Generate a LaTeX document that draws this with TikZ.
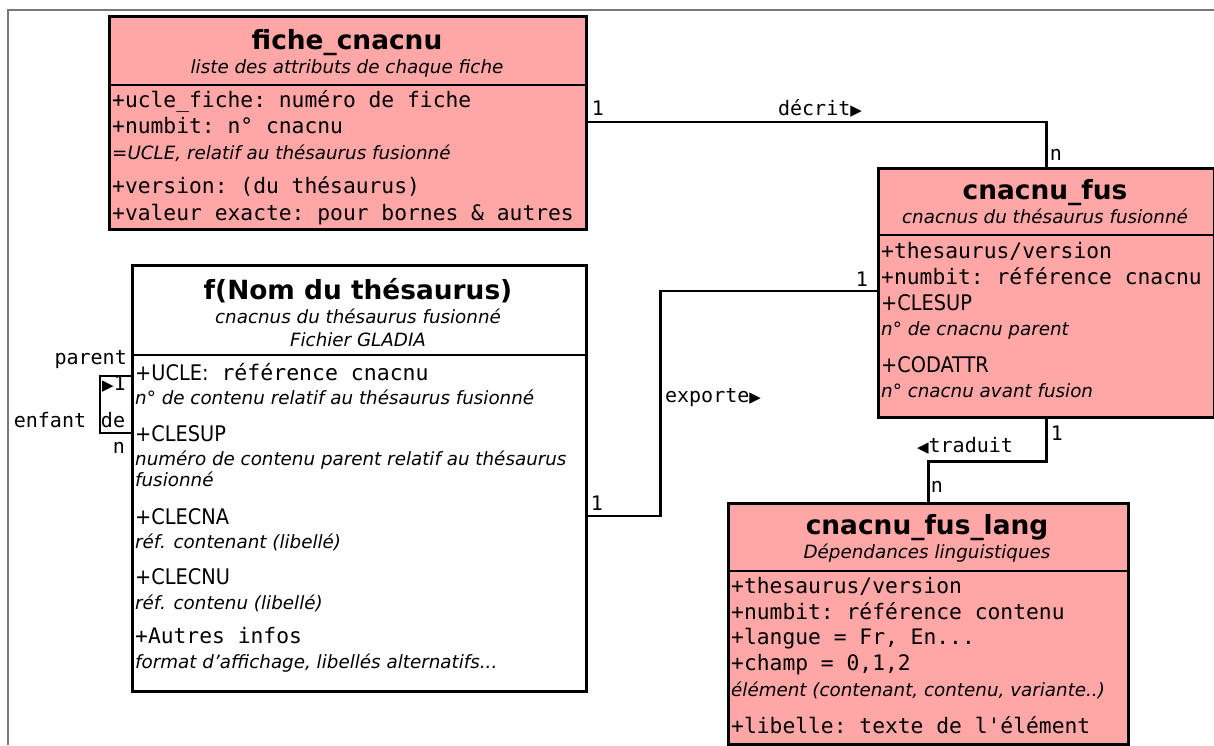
\documentclass[tikz,border=0pt]{standalone}
\usepackage{fontspec}
\setmainfont{DejaVu Sans}
\setmonofont{DejaVu Sans Mono}
\newfontfamily\condfont{DejaVu Sans Condensed}[ItalicFont={DejaVu Sans Condensed Oblique}]
\usetikzlibrary{positioning}
\definecolor{classpink}{RGB}{255,166,166}
\definecolor{framegrey}{RGB}{120,120,120}
\newcommand{\arrowR}{{\rmfamily\fontsize{15}{15}\selectfont ▶}}
\newcommand{\arrowL}{{\rmfamily\fontsize{15}{15}\selectfont ◀}}

\tikzset{
    classbox/.style={draw, line width=2.5pt, anchor=north west, inner sep=0pt, fill=classpink},
    plainbox/.style={classbox, fill=white},
    divider/.style={line width=2.5pt},
    link/.style={line width=2.5pt},
    frameline/.style={line width=1.5pt, draw=framegrey},
    classname/.style={anchor=base, inner sep=0pt, font=\bfseries\fontsize{26.4}{28}\selectfont},
    classnote/.style={anchor=base, inner sep=0pt, font=\itshape\fontsize{18.3}{20}\selectfont},
    attr/.style={anchor=base west, inner sep=0pt, font=\ttfamily\fontsize{21.3}{23}\selectfont},
    attrkey/.style={anchor=base west, inner sep=0pt, font=\condfont\fontsize{21.5}{23}\selectfont},
    attrnote/.style={anchor=base west, inner sep=0pt, font=\itshape\fontsize{18.3}{20}\selectfont},
    mult/.style={inner sep=0pt, font=\ttfamily\fontsize{20}{22}\selectfont}
}

\begin{document}
\begin{tikzpicture}[x=1pt, y=-1pt]
    \useasboundingbox (0,0) rectangle (1214,745);
    \draw[frameline] (8,745) -- (8,10) -- (1214,10);

    % fiche_cnacnu
    \node[classbox, minimum width=477pt, minimum height=213pt] (fiche) at (108,15) {};
    \draw[divider] ([yshift=-70pt]fiche.north west) -- ([yshift=-70pt]fiche.north east);
    \node[classname] (ficheT) at (347,49) {fiche\_cnacnu};
    \node[classnote] (ficheS) at (347,73) {liste des attributs de chaque fiche};
    \node[attr] (ficheA1) at (112,107) {+ucle\_fiche: numéro de fiche};
    \node[attr] (ficheA2) at (112,133) {+numbit: n° cnacnu};
    \node[attrnote] (ficheA3) at (112,159) {=UCLE, relatif au thésaurus fusionné};
    \node[attr] (ficheA4) at (112,193) {+version: (du thésaurus)};
    \node[attr] (ficheA5) at (112,220) {+valeur exacte: pour bornes \& autres};

    % f(Nom du thesaurus)
    \node[plainbox, minimum width=454pt, minimum height=426pt] (thes) at (131,264) {};
    \draw[divider] ([yshift=-91pt]thes.north west) -- ([yshift=-91pt]thes.north east);
    \node[classname] (thesT) at (358,299) {f(Nom du thésaurus)};
    \node[classnote] (thesS1) at (358,323) {cnacnus du thésaurus fusionné};
    \node[classnote] (thesS2) at (358,346) {Fichier GLADIA};
    \node[attrkey] (thesA1) at (135,380) {+UCLE:\texttt{ référence cnacnu}};
    \node[attrnote] (thesA2) at (135,404) {n° de contenu relatif au thésaurus fusionné};
    \node[attrkey] (thesA3) at (135,441) {+CLESUP};
    \node[attrnote] (thesA4) at (135,465) {numéro de contenu parent relatif au thésaurus};
    \node[attrnote] (thesA5) at (135,486) {fusionné};
    \node[attrkey] (thesA6) at (135,524) {+CLECNA};
    \node[attrnote] (thesA7) at (135,548) {réf. contenant (libellé)};
    \node[attrkey] (thesA8) at (135,584) {+CLECNU};
    \node[attrnote] (thesA9) at (135,609) {réf. contenu (libellé)};
    \node[attr] (thesA10) at (135,643) {+Autres infos};
    \node[attrnote] (thesA11) at (135,668) {format d'affichage, libellés alternatifs...};

    % cnacnu_fus
    \node[classbox, minimum width=336pt, minimum height=249pt] (fus) at (877,167) {};
    \draw[divider] ([yshift=-68pt]fus.north west) -- ([yshift=-68pt]fus.north east);
    \node[classname] (fusT) at (1045,199) {cnacnu\_fus};
    \node[classnote] (fusS) at (1045,223) {cnacnus du thésaurus fusionné};
    \node[attr] (fusA1) at (881,258) {+thesaurus/version};
    \node[attr] (fusA2) at (881,284) {+numbit: référence cnacnu};
    \node[attrkey] (fusA3) at (881,310) {+CLESUP};
    \node[attrnote] (fusA4) at (881,335) {n° de cnacnu parent};
    \node[attrkey] (fusA5) at (881,372) {+CODATTR};
    \node[attrnote] (fusA6) at (881,397) {n° cnacnu avant fusion};

    % cnacnu_fus_lang
    \node[classbox, minimum width=400pt, minimum height=241pt] (lang) at (727,502) {};
    \draw[divider] ([yshift=-69pt]lang.north west) -- ([yshift=-69pt]lang.north east);
    \node[classname] (langT) at (927,534) {cnacnu\_fus\_lang};
    \node[classnote] (langS) at (927,558) {Dépendances linguistiques};
    \node[attr] (langA1) at (731,593) {+thesaurus/version};
    \node[attr] (langA2) at (731,619) {+numbit: référence contenu};
    \node[attr] (langA3) at (731,644) {+langue = Fr, En...};
    \node[attr] (langA4) at (731,670) {+champ = 0,1,2};
    \node[attrnote] (langA5) at (731,696) {élément (contenant, contenu, variante..)};
    \node[attr] (langA6) at (731,733) {+libelle: texte de l'élément};

    % associations
    \coordinate (decritA) at ([yshift=-107pt]fiche.north east);
    \draw[link] (decritA) -| (fus.north);
    \node[mult] (decrit1) at (598,108) {1};
    \node[mult] (decritL) at (820,108) {décrit\arrowR};
    \node[mult] (decritN) at (1056,155) {n};

    \coordinate (exportA) at ([yshift=-252pt]thes.north east);
    \coordinate (exportB) at ([yshift=-124pt]fus.north west);
    \draw[link] (exportA) -- ++(73,0) |- (exportB);
    \node[mult] (export1) at (597,503) {1};
    \node[mult] (export2) at (862,279) {1};
    \node[mult] (exportL) at (713,398) {exporte\arrowR};

    \draw[link] (fus.south) -- ++(0,43) -| (lang.north);
    \node[mult] (traduit1) at (1057,433) {1};
    \node[mult] (traduitL) at (965,446) {\arrowL traduit};
    \node[mult] (traduitN) at (937,487) {n};

    \coordinate (selfA) at ([yshift=-112pt]thes.north west);
    \coordinate (selfB) at ([yshift=-169pt]thes.north west);
    \draw[link] (selfA) -- ++(-31,0) |- (selfB);
    \node[mult, anchor=east] (selfP) at (127,360) {parent};
    \node[mult] (self1) at (114,384) {\arrowR1};
    \node[mult] (selfE) at (50,420) {enfant};
    \node[mult] (selfD) at (113,420) {de};
    \node[mult] (selfN) at (119,448) {n};
\end{tikzpicture}
\end{document}
